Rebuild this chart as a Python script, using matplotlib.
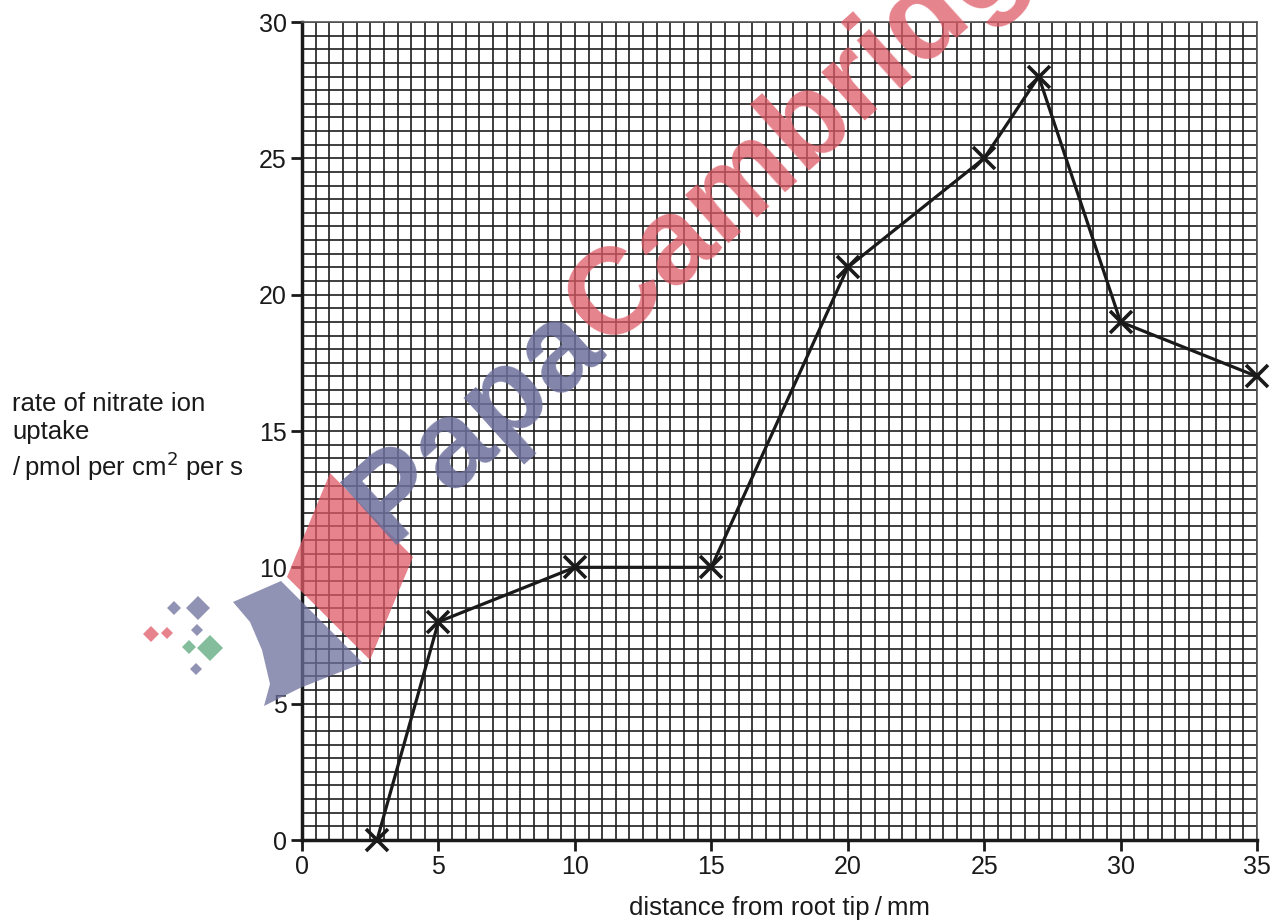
import numpy as np
import matplotlib.pyplot as plt
from matplotlib.ticker import MultipleLocator
from matplotlib.patches import Polygon

# distance from root tip (mm) and nitrate uptake rate (pmol per cm2 per s)
distance = [2.75, 5, 10, 15, 20, 25, 27, 30, 35]
uptake = [0, 8, 10, 10, 21, 25, 28, 19, 17]

x_ticks = [0, 5, 10, 15, 20, 25, 30, 35]
y_ticks = [0, 5, 10, 15, 20, 25, 30]

W, H = 1285, 922
plt.rcParams['font.family'] = ['Liberation Sans', 'DejaVu Sans']

fig = plt.figure(figsize=(W / 100, H / 100), dpi=100)
ax = fig.add_axes([302 / W, 1 - 840 / H, 955 / W, 818 / H])


def px(x, y):
    # pixel position (from top-left) to figure fraction
    return (x / W, 1 - y / H)


def diamond(cx, cy, r, color):
    pts = [px(cx, cy - r), px(cx + r, cy), px(cx, cy + r), px(cx - r, cy)]
    fig.patches.append(Polygon(pts, closed=True, transform=fig.transFigure,
                               facecolor=color, edgecolor='none', alpha=0.75,
                               zorder=0))


# watermark logo, drawn faintly behind the grid
red = '#de5a66'
blue = '#6d6f9c'
green = '#5aa77a'
logo_red = [px(330, 473), px(413, 557), px(370, 660), px(287, 577)]
logo_blue = [px(233, 602), px(281, 581), px(363, 663), px(300, 688),
             px(264, 706), px(270, 684), px(262, 650), px(250, 622)]
fig.patches.append(Polygon(logo_red, closed=True, transform=fig.transFigure,
                           facecolor=red, edgecolor='none', alpha=0.75, zorder=0))
fig.patches.append(Polygon(logo_blue, closed=True, transform=fig.transFigure,
                           facecolor=blue, edgecolor='none', alpha=0.75, zorder=0))
diamond(174, 608, 7, blue)
diamond(198, 608, 12, blue)
diamond(197, 630, 6, blue)
diamond(196, 669, 6, blue)
diamond(151, 634, 8, red)
diamond(167, 633, 6, red)
diamond(189, 647, 7, green)
diamond(210, 648, 13, green)

jx, jy = px(606, 350)
fig.text(jx, jy, 'Papa', color=blue, alpha=0.85, fontsize=88,
         fontweight='bold', rotation=42, rotation_mode='anchor',
         ha='right', va='baseline', zorder=0)
fig.text(jx, jy, 'Cambridge', color=red, alpha=0.75, fontsize=88,
         fontweight='bold', rotation=42, rotation_mode='anchor',
         ha='left', va='baseline', zorder=0)

ax.set_xlim(0, 35)
ax.set_ylim(0, 30)
ax.patch.set_alpha(0)

ax.xaxis.set_major_locator(MultipleLocator(5))
ax.yaxis.set_major_locator(MultipleLocator(5))
ax.xaxis.set_minor_locator(MultipleLocator(0.5))
ax.yaxis.set_minor_locator(MultipleLocator(0.5))
ax.grid(which='both', color='#1e1e1e', linewidth=1.2)
ax.set_axisbelow(True)

ax.plot(distance, uptake, color='#1a1a1a', linewidth=2.3, marker='x',
        markersize=16, markeredgewidth=2.6, zorder=5, clip_on=False)

ax.set_xticks(x_ticks)
ax.set_yticks(y_ticks)
ax.tick_params(which='major', direction='out', length=8, width=2,
               labelsize=18, pad=3, colors='#1a1a1a')
ax.tick_params(which='minor', length=0)

for side in ['top', 'right']:
    ax.spines[side].set_color('#555555')
    ax.spines[side].set_linewidth(1.2)
for side in ['left', 'bottom']:
    ax.spines[side].set_linewidth(2.5)
    ax.spines[side].set_color('#1a1a1a')

ax.set_xlabel('distance from root tip\u2009/\u2009mm', fontsize=18.5,
              labelpad=12, color='#1a1a1a')
fig.text(12 / W, 1 - 392 / H,
         'rate of nitrate ion\nuptake\n/\u2009pmol per cm$^2$ per s',
         fontsize=18.5, ha='left', va='top', linespacing=1.2, color='#1a1a1a')

fig.savefig('out.png', dpi=100)
